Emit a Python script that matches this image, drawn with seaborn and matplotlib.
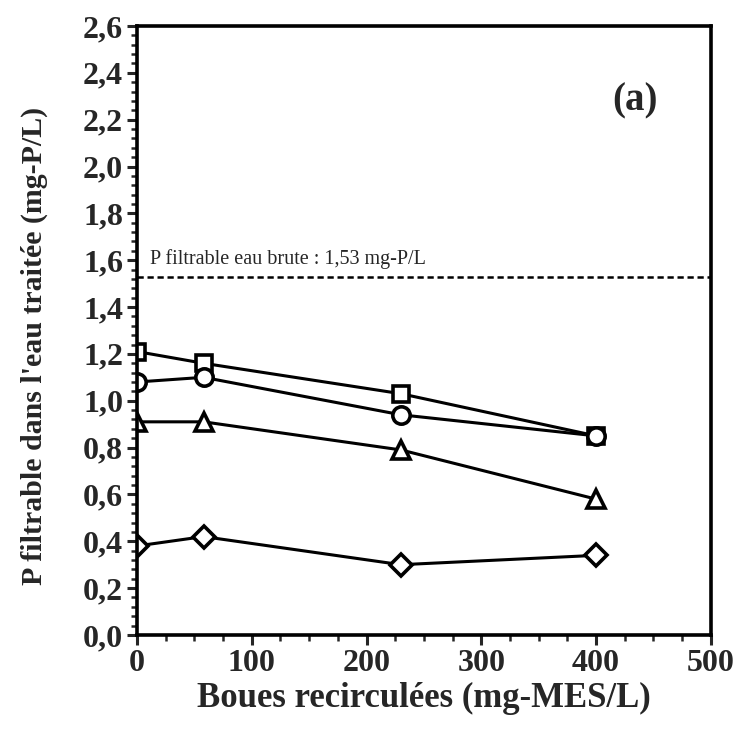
import matplotlib
matplotlib.use("Agg")
import matplotlib.pyplot as plt
from matplotlib.ticker import MultipleLocator, FuncFormatter
import seaborn as sns
import pandas as pd

boues = [0, 58, 230, 400]
serie_carre = [1.21, 1.16, 1.03, 0.85]
serie_cercle = [1.08, 1.10, 0.94, 0.85]
serie_triangle = [0.91, 0.91, 0.79, 0.58]
serie_losange = [0.38, 0.42, 0.30, 0.34]
p_brute = 1.53

series = {"carre": serie_carre, "cercle": serie_cercle,
          "triangle": serie_triangle, "losange": serie_losange}
marqueurs = {"carre": "s", "cercle": "o", "triangle": "^", "losange": "D"}
tailles = {"carre": 11.5, "cercle": 12.5, "triangle": 13, "losange": 11}

rows = []
for nom, vals in series.items():
    for x, y in zip(boues, vals):
        rows.append({"boues": x, "P": y, "serie": nom})
df = pd.DataFrame(rows)

sns.set_style("ticks")
plt.rcParams["font.family"] = ["Liberation Serif", "DejaVu Serif"]

fig = plt.figure(figsize=(7.42, 7.38), dpi=100)
ax = fig.add_axes([0.1846, 0.1396, 0.958 - 0.1846, 0.9648 - 0.1396])

for nom in series:
    sub = df[df["serie"] == nom]
    sns.lineplot(data=sub, x="boues", y="P", ax=ax, color="black", lw=2.2,
                 marker=marqueurs[nom], markersize=tailles[nom],
                 markerfacecolor="white", markeredgecolor="black",
                 markeredgewidth=2.6, legend=False)

ax.axhline(p_brute, color="black", ls=(0, (2.5, 1.5)), lw=1.8)
ax.text(11, 1.607, "P filtrable eau brute : 1,53 mg-P/L",
        fontsize=14.5, ha="left", va="center")
ax.text(434, 2.28, "(a)", fontsize=28, fontweight="bold", ha="center", va="center")

ax.set_xlim(0, 500)
ax.set_ylim(0, 2.6)
ax.xaxis.set_major_locator(MultipleLocator(100))
ax.xaxis.set_minor_locator(MultipleLocator(25))
ax.yaxis.set_major_locator(MultipleLocator(0.2))
ax.yaxis.set_minor_locator(MultipleLocator(0.04))
ax.yaxis.set_major_formatter(FuncFormatter(lambda v, p: f"{v:.1f}".replace(".", ",")))

ax.tick_params(axis="both", which="major", length=7, width=2.2, direction="out", pad=3)
ax.tick_params(axis="x", which="major", labelsize=23)
ax.tick_params(axis="y", which="major", labelsize=23)
ax.tick_params(axis="both", which="minor", length=4.5, width=1.8, direction="out")
for lab in ax.get_xticklabels() + ax.get_yticklabels():
    lab.set_fontweight("bold")

for s in ax.spines.values():
    s.set_linewidth(2.6)
    s.set_color("black")

ax.set_xlabel("Boues recirculées (mg-MES/L)", fontsize=25, fontweight="bold", labelpad=3)
ax.set_ylabel("P filtrable dans l'eau traitée (mg-P/L)", fontsize=21.5, fontweight="bold")
ax.yaxis.set_label_coords(-0.155, 0.475)

fig.savefig("out.png", dpi=100)
